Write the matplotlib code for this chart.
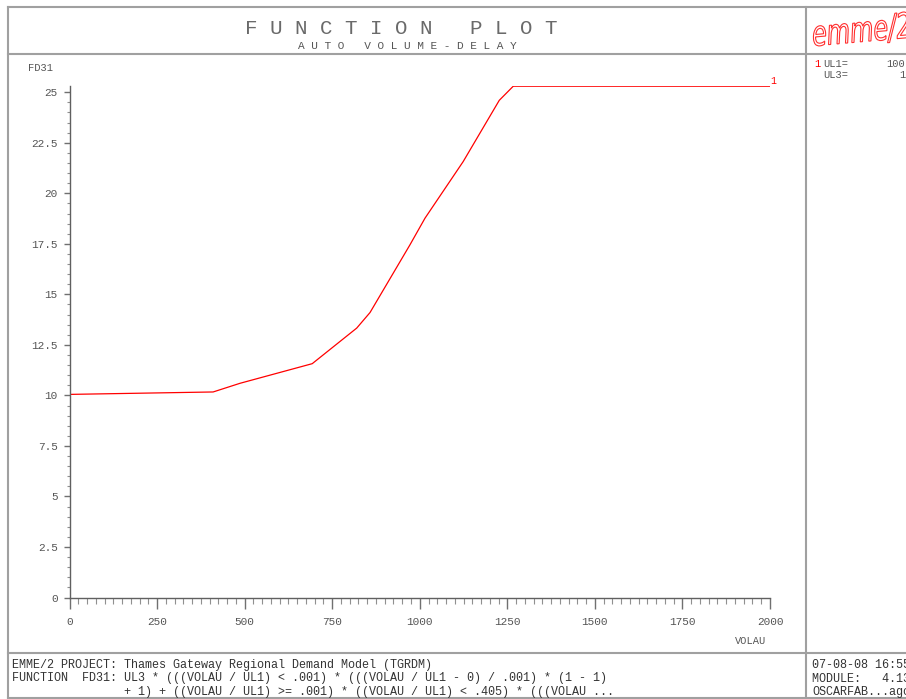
import matplotlib
matplotlib.use("Agg")
import matplotlib.pyplot as plt
from matplotlib.lines import Line2D
from matplotlib.patches import PathPatch
from matplotlib.textpath import TextPath
from matplotlib.font_manager import FontProperties
from matplotlib.transforms import Affine2D
from matplotlib.ticker import MultipleLocator, FuncFormatter

# curve FD31
volau = [0, 410, 487, 693, 820, 858, 972, 1015, 1124, 1227, 1267, 2000]
fd31 = [10.05, 10.17, 10.6, 11.57, 13.33, 14.1, 17.45, 18.77, 21.57, 24.6, 25.3, 25.3]

x_ticks = [0, 250, 500, 750, 1000, 1250, 1500, 1750, 2000]
y_ticks = [0, 2.5, 5, 7.5, 10, 12.5, 15, 17.5, 20, 22.5, 25]

title = "F U N C T I O N   P L O T"
subtitle = "A U T O   V O L U M E - D E L A Y"
footer_left = [
    "EMME/2 PROJECT: Thames Gateway Regional Demand Model (TGRDM)",
    "FUNCTION  FD31: UL3 * (((VOLAU / UL1) < .001) * (((VOLAU / UL1 - 0) / .001) * (1 - 1)",
    "                + 1) + ((VOLAU / UL1) >= .001) * ((VOLAU / UL1) < .405) * (((VOLAU ...",
]
footer_right = ["07-08-08 16:55", "MODULE:   4.13", "OSCARFAB...agc"]
params = [("UL1=", "100"), ("UL3=", "1")]

W, H = 906, 699
mono = "Liberation Mono"
grey = "#555555"
frame = "#a0a0a0"


def fx(px):
    return px / W


def fy(py):
    return 1 - py / H


fig = plt.figure(figsize=(W / 100, H / 100), dpi=100)

# outer frame
for (x0, y0, x1, y1) in [(8, 7, 906, 7), (8, 54, 906, 54), (8, 653, 906, 653),
                         (8, 698, 906, 698), (8, 7, 8, 698), (806, 7, 806, 698)]:
    fig.add_artist(Line2D([fx(x0), fx(x1)], [fy(y0), fy(y1)], color=frame, lw=1.5))

fig.text(fx(401), fy(28), title, family=mono, fontsize=15, color="#6a6a6a", ha="center", va="center")
fig.text(fx(407), fy(46), subtitle, family=mono, fontsize=8, color=grey, ha="center", va="center")

# emme/2 logo, drawn as thin outlined text stretched upwards
logo = TextPath((0, 0), "emme/2", size=20, prop=FontProperties(family="DejaVu Sans", style="italic"))
logo_tf = Affine2D().scale(1.2, 1.75).rotate_deg(5).translate(813, H - 46)
fig.add_artist(PathPatch(logo, transform=logo_tf, facecolor="none", edgecolor="#ff3030", lw=0.8))

# plot area
ax = fig.add_axes([fx(69.5), fy(597.5), (770 - 69.5) / W, (597.5 - 86.2) / H])
ax.plot(volau, fd31, color="red", lw=0.9)
ax.set_xlim(0, 2000)
ax.set_ylim(0, 25.3)
for s in ["top", "right"]:
    ax.spines[s].set_visible(False)
for s in ["left", "bottom"]:
    ax.spines[s].set_color("#606060")
    ax.spines[s].set_linewidth(1)

ax.set_xticks(x_ticks)
ax.set_yticks(y_ticks)
ax.xaxis.set_minor_locator(MultipleLocator(25))
ax.yaxis.set_minor_locator(MultipleLocator(0.5))
ax.yaxis.set_major_formatter(FuncFormatter(lambda v, p: f"{v:g}"))
ax.tick_params(axis="x", which="major", length=8, width=1, color="#707070", pad=6,
               labelsize=8, labelcolor=grey)
ax.tick_params(axis="x", which="minor", length=4, width=0.8, color="#909090")
ax.tick_params(axis="y", which="major", length=4.5, width=1, color="#707070", pad=4,
               labelsize=8, labelcolor=grey)
ax.tick_params(axis="y", which="minor", length=2.5, width=0.8, color="#909090")
for lab in ax.get_xticklabels() + ax.get_yticklabels():
    lab.set_family(mono)

ax.text(volau[-1], fd31[-1], "1", color="red", fontsize=7, family=mono,
        ha="left", va="bottom")

fig.text(fx(28), fy(68), "FD31", family=mono, fontsize=7.5, color=grey, ha="left", va="center")
fig.text(fx(735), fy(641), "VOLAU", family=mono, fontsize=7.5, color=grey, ha="left", va="center")

# parameter box
fig.text(fx(814), fy(64), "1", family=mono, fontsize=7.5, color="red", ha="left", va="center")
for i, (name, val) in enumerate(params):
    y = 64 + 11 * i
    fig.text(fx(823), fy(y), name, family=mono, fontsize=7.5, color=grey, ha="left", va="center")
    fig.text(fx(886 if i == 0 else 899), fy(y), val, family=mono, fontsize=7.5, color=grey,
             ha="left", va="center")

# footer
for i, line in enumerate(footer_left):
    fig.text(fx(12), fy(665 + 13.5 * i), line, family=mono, fontsize=8.5, color="#333333",
             ha="left", va="center")
for i, line in enumerate(footer_right):
    fig.text(fx(812), fy(665 + 13.5 * i), line, family=mono, fontsize=8.5, color="#333333",
             ha="left", va="center")

fig.savefig("out.png", dpi=100)
